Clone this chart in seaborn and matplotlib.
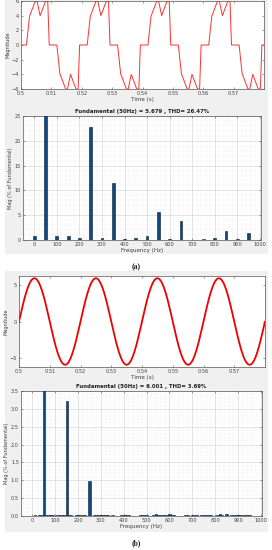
import numpy as np
import pandas as pd
import matplotlib
matplotlib.use("Agg")
import matplotlib.pyplot as plt
from matplotlib.patches import Rectangle
from matplotlib.ticker import MultipleLocator
import seaborn as sns

# ---- data ----
period = 0.02
t_start = 0.5
n_periods = 4

# (a) stepped inverter voltage, one period (offset in s, value)
step_t = [0, 0.0018, 0.0028, 0.0047, 0.0053, 0.0063, 0.0081, 0.0088, 0.0093,
          0.0118, 0.0128, 0.0147, 0.0153, 0.0163, 0.0181, 0.0188, 0.0193]
step_v = [0, 0, 3.9, 6, 6, 4, 6, 6, 0,
          0, -3.9, -6, -6, -4, -6, -6, 0]

# (b) filtered voltage, quarter period sampled every 0.5 ms
quarter_v = [0, 0.92, 1.82, 2.68, 3.47, 4.17, 4.77, 5.26, 5.61, 5.83, 5.9]
sine_dt = 0.0005

# (a) spectrum
freq_a = [0, 50, 100, 150, 200, 250, 300, 350, 400, 450, 500,
          550, 600, 650, 700, 750, 800, 850, 900, 950]
mag_a = [0.8, 100, 0.8, 0.8, 0.4, 22.7, 0.35, 11.4, 0.3, 0.5, 0.75,
         5.6, 0.15, 3.9, 0.05, 0.3, 0.5, 1.8, 0.15, 1.5]
title_a = "Fundamental (50Hz) = 5.679 , THD= 26.47%"

# (b) spectrum
freq_b = [10, 30, 40, 50, 60, 70, 80, 90, 110, 120, 130, 140, 150, 160, 170,
          190, 200, 210, 220, 230, 250, 270, 280, 290, 300, 310, 320, 330, 350,
          390, 400, 410, 420, 470, 480, 490, 500, 530, 540, 550, 560, 570, 580,
          590, 600, 610, 620, 670, 680, 700, 710, 720, 740, 750, 760, 770, 780,
          810, 820, 830, 850, 870, 880, 890, 900, 910, 920, 930, 940, 950]
mag_b = [0.03, 0.03, 0.04, 100, 0.04, 0.03, 0.03, 0.03, 0.03, 0.03, 0.02, 0.03, 3.22, 0.03, 0.02,
         0.03, 0.03, 0.03, 0.02, 0.03, 0.99, 0.02, 0.03, 0.02, 0.03, 0.02, 0.03, 0.02, 0.03,
         0.03, 0.04, 0.03, 0.02, 0.03, 0.03, 0.02, 0.04, 0.03, 0.05, 0.04, 0.04, 0.03, 0.03,
         0.04, 0.06, 0.04, 0.03, 0.03, 0.03, 0.03, 0.04, 0.03, 0.03, 0.04, 0.03, 0.03, 0.03,
         0.03, 0.05, 0.03, 0.05, 0.03, 0.03, 0.03, 0.03, 0.02, 0.03, 0.03, 0.02, 0.02]
title_b = "Fundamental (50Hz) = 6.001 , THD= 3.69%"

time_ticks = [0.5, 0.51, 0.52, 0.53, 0.54, 0.55, 0.56, 0.57]
time_labels = ["0.5", "0.51", "0.52", "0.53", "0.54", "0.55", "0.56", "0.57"]
freq_ticks = [0, 100, 200, 300, 400, 500, 600, 700, 800, 900, 1000]

# ---- build tables ----
wave_a = pd.DataFrame({
    "t": np.concatenate([t_start + k * period + np.array(step_t) for k in range(n_periods)] + [[0.58]]),
    "v": np.concatenate([step_v] * n_periods + [[0]]),
})
half = quarter_v + quarter_v[-2::-1]
one_period = half[:-1] + [-v for v in half[:-1]]
wave_b = pd.DataFrame({"v": one_period * n_periods + [0]})
wave_b["t"] = t_start + np.arange(len(wave_b)) * sine_dt
spec_a = pd.DataFrame({"f": freq_a, "m": mag_a})
spec_b = pd.DataFrame({"f": freq_b, "m": mag_b})

# ---- figure ----
sns.set_theme(style="white")
plt.rcParams["font.family"] = ["DejaVu Sans"]
W, H = 272, 550
fig = plt.figure(figsize=(W / 100, H / 100), dpi=100)
fig.patch.set_facecolor("white")


def box(l, t, r, b):
    return [l / W, 1 - b / H, (r - l) / W, (b - t) / H]


# gray panels behind the axes
for l, t, r, b in [(5, 0, 268, 254), (5, 271, 268, 532)]:
    fig.patches.append(Rectangle((l / W, 1 - b / H), (r - l) / W, (b - t) / H,
                                 transform=fig.transFigure, facecolor="#f0f0f0",
                                 edgecolor="none", zorder=-5))

fs = 3.6
text_c = "#404040"


def style(ax):
    ax.set_facecolor("white")
    for s in ax.spines.values():
        s.set_color("#555555")
        s.set_linewidth(0.5)
    ax.tick_params(direction="in", length=1.5, width=0.4, labelsize=fs,
                   colors="#555555", labelcolor=text_c, pad=1.5,
                   top=True, right=True, bottom=True, left=True)
    ax.xaxis.label.set_size(fs + 0.5)
    ax.yaxis.label.set_size(fs)
    ax.xaxis.label.set_color(text_c)
    ax.yaxis.label.set_color(text_c)
    ax.xaxis.labelpad = 0.8
    ax.yaxis.labelpad = 1


def wave(rect, df, yticks, ylim, lw, col):
    ax = fig.add_axes(rect)
    sns.lineplot(data=df, x="t", y="v", ax=ax, color=col, linewidth=lw, sort=False)
    ax.set_xlim(0.5, 0.58)
    ax.set_ylim(*ylim)
    ax.set_xticks(time_ticks)
    ax.set_xticklabels(time_labels)
    ax.set_yticks(yticks)
    ax.set_xlabel("Time (s)")
    ax.set_ylabel("Magnitude")
    style(ax)
    return ax


def spectrum(rect, df, ylim, ymajor, yminor, bw, title):
    ax = fig.add_axes(rect)
    sns.barplot(data=df, x="f", y="m", ax=ax, native_scale=True, width=bw,
                color="#0d4a85", edgecolor="#0a1a30", linewidth=0.4,
                saturation=1, errorbar=None, zorder=3)
    ax.set_xlim(-50, 1005)
    ax.set_ylim(*ylim)
    ax.set_xticks(freq_ticks)
    ax.set_xticklabels([str(f) for f in freq_ticks])
    ax.xaxis.set_minor_locator(MultipleLocator(20))
    ax.yaxis.set_major_locator(MultipleLocator(ymajor))
    ax.yaxis.set_minor_locator(MultipleLocator(yminor))
    ax.grid(which="major", color="#d0d0d0", linewidth=0.4)
    ax.grid(which="minor", color="#dcdcdc", linewidth=0.3, linestyle=":")
    ax.set_axisbelow(True)
    ax.set_xlabel("Frequency (Hz)")
    ax.set_ylabel("Mag (% of Fundamental)")
    ax.set_title(title, fontsize=fs + 0.3, fontweight="bold", color="#222222", pad=2)
    style(ax)
    ax.tick_params(which="minor", length=0)
    return ax


wave(box(21, 1, 264, 89), wave_a, [-6, -4, -2, 0, 2, 4, 6], (-6, 6), 0.7, "#ff3030")
spectrum(box(23, 116, 261, 240), spec_a, (0, 25), 5, 1, 0.25, title_a)
wave(box(19, 276, 265, 367), wave_b, [-5, 0, 5], (-6.2, 6.2), 1.3, "#ee0000")
spectrum(box(21, 391, 262, 516), spec_b, (0, 3.5), 0.5, 0.1, 1.0, title_b)

for y, lab in [(267, "(a)"), (543, "(b)")]:
    fig.text(136 / W, 1 - y / H, lab, ha="center", va="center",
             fontsize=5.5, fontweight="bold", family=["Liberation Serif"], color="#222222")

fig.savefig("out.png", dpi=100)
